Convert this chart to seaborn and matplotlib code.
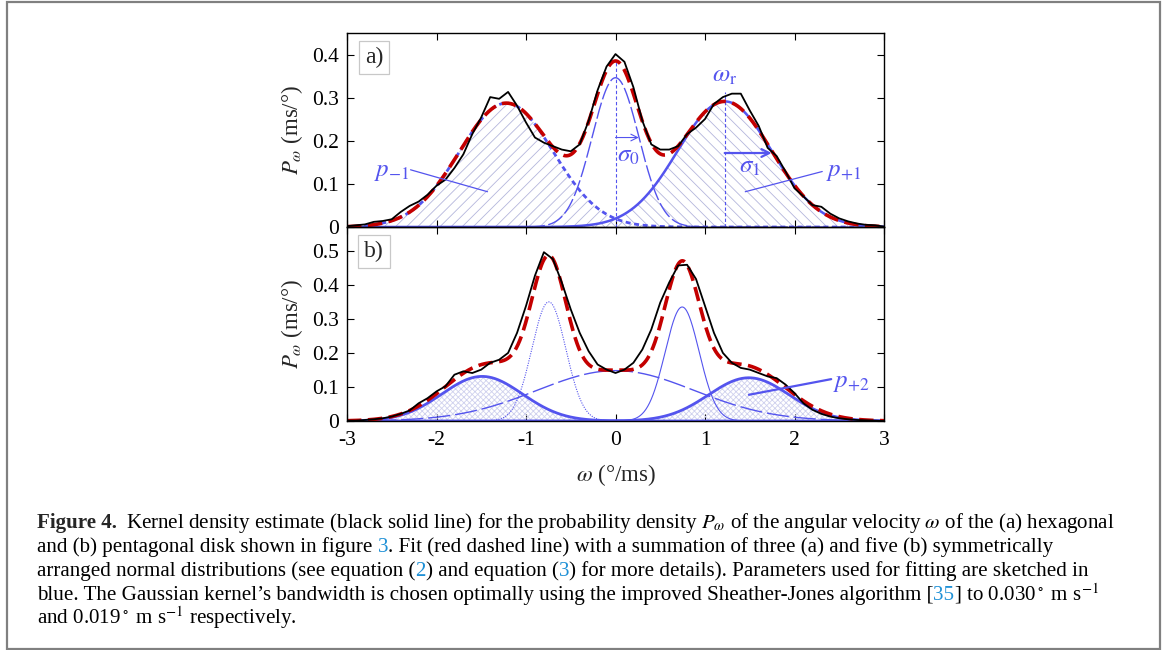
import numpy as np
import matplotlib
matplotlib.use("Agg")
import matplotlib.pyplot as plt
import seaborn as sns
from matplotlib.patches import Rectangle

sns.set_theme(style="ticks")
plt.rcParams["font.family"] = ["Liberation Serif", "DejaVu Serif"]
plt.rcParams["mathtext.fontset"] = "stix"
plt.rcParams["axes.unicode_minus"] = False
plt.rcParams["hatch.linewidth"] = 0.6

W, H = 1165, 650

# angular velocity grid of the kernel density estimates (deg/ms)
omega = np.round(np.arange(-3.0, 3.0001, 0.1), 1)

# (a) hexagonal disk, KDE
kde_a = [0.002, 0.004, 0.006, 0.012, 0.014, 0.018, 0.035, 0.049, 0.059, 0.075,
         0.096, 0.110, 0.137, 0.169, 0.216, 0.255, 0.302, 0.298, 0.314, 0.282,
         0.243, 0.208, 0.196, 0.188, 0.180, 0.176, 0.192, 0.247, 0.318, 0.373,
         0.402, 0.384, 0.325, 0.247, 0.192, 0.180, 0.180, 0.188, 0.216, 0.231,
         0.251, 0.286, 0.302, 0.310, 0.310, 0.271, 0.235, 0.184, 0.165, 0.129,
         0.090, 0.071, 0.051, 0.047, 0.031, 0.020, 0.013, 0.008, 0.005, 0.004,
         0.001]

# (b) pentagonal disk
kde_b = [0.001, 0.001, 0.003, 0.005, 0.008, 0.013, 0.021, 0.031, 0.052, 0.067,
         0.087, 0.102, 0.136, 0.146, 0.141, 0.151, 0.171, 0.180, 0.200, 0.259,
         0.338, 0.427, 0.496, 0.476, 0.407, 0.328, 0.259, 0.205, 0.166, 0.151,
         0.141, 0.151, 0.171, 0.210, 0.269, 0.348, 0.407, 0.457, 0.459, 0.417,
         0.338, 0.259, 0.200, 0.171, 0.156, 0.151, 0.141, 0.131, 0.126, 0.107,
         0.082, 0.052, 0.033, 0.021, 0.013, 0.008, 0.005, 0.003, 0.002, 0.001,
         0.000]

# fitted normal components (centre, amplitude, sigma)
centers_a = [-1.22, 0.0, 1.22]
amps_a = [0.288, 0.347, 0.292]
sigmas_a = [0.525, 0.26, 0.525]

centers_b = [-1.49, -0.745, 0.0, 0.745, 1.49]
amps_b = [0.131, 0.35, 0.148, 0.335, 0.127]
sigmas_b = [0.45, 0.19, 0.88, 0.19, 0.45]

blue = "#5454ee"
red = "#c40000"
hatch_col = "#b4b6dc"
cross_col = "#cfd1ee"
link = "#1e90d6"

x_fit = np.linspace(-3, 3, 1201)


def gauss(c, a, s):
    return a * np.exp(-0.5 * ((x_fit - c) / s) ** 2)


comp_a = [gauss(c, a, s) for c, a, s in zip(centers_a, amps_a, sigmas_a)]
comp_b = [gauss(c, a, s) for c, a, s in zip(centers_b, amps_b, sigmas_b)]
fit_a = np.sum(comp_a, axis=0)
fit_b = np.sum(comp_b, axis=0)

fig = plt.figure(figsize=(W / 100, H / 100), dpi=100)
ax_a = fig.add_axes([347 / W, 1 - 227 / H, 537 / W, 194 / H])
ax_b = fig.add_axes([347 / W, 1 - 421 / H, 537 / W, 194 / H])

# ---------- panel a ----------
ax_a.fill_between(x_fit, 0, comp_a[0], facecolor="none", edgecolor=hatch_col,
                  hatch="///", linewidth=0)
ax_a.fill_between(x_fit, 0, comp_a[2], facecolor="none", edgecolor=hatch_col,
                  hatch="\\\\\\", linewidth=0)

sns.lineplot(x=x_fit, y=comp_a[0], ax=ax_a, color=blue, lw=2.0,
             linestyle=(0, (1.8, 1.3)))
sns.lineplot(x=x_fit, y=comp_a[1], ax=ax_a, color=blue, lw=1.0,
             linestyle=(0, (12, 2.5)))
sns.lineplot(x=x_fit, y=comp_a[2], ax=ax_a, color=blue, lw=1.8)

ax_a.vlines(centers_a[1], 0, fit_a.max(), color=blue, lw=0.8,
            linestyle=(0, (3, 2)))
ax_a.vlines(centers_a[2], 0, 0.314, color=blue, lw=0.8, linestyle=(0, (3, 2)))

ax_a.annotate("", xy=(centers_a[1] + sigmas_a[1], 0.208),
              xytext=(centers_a[1], 0.208),
              arrowprops=dict(arrowstyle="->", color=blue, lw=0.8,
                              shrinkA=0, shrinkB=0))
ax_a.annotate("", xy=(centers_a[2] + sigmas_a[2], 0.172),
              xytext=(centers_a[2], 0.172),
              arrowprops=dict(arrowstyle="->", color=blue, lw=1.6,
                              shrinkA=0, shrinkB=0, mutation_scale=14))

sns.lineplot(x=x_fit, y=fit_a, ax=ax_a, color=red, lw=2.6,
             linestyle=(0, (4, 1.8)))
sns.lineplot(x=omega, y=kde_a, ax=ax_a, color="black", lw=1.3)

ax_a.text(0.14, 0.166, r"$\sigma_0$", color=blue, fontsize=18,
          ha="center", va="center")
ax_a.text(1.50, 0.140, r"$\sigma_1$", color=blue, fontsize=18,
          ha="center", va="center")
ax_a.text(1.22, 0.352, r"$\omega_\mathrm{r}$", color=blue, fontsize=18,
          ha="center", va="center")
ax_a.text(-2.50, 0.128, r"$p_{\mathrm{-}1}$", color=blue, fontsize=18,
          ha="center", va="center")
ax_a.text(2.55, 0.128, r"$p_{+1}$", color=blue, fontsize=18,
          ha="center", va="center")
ax_a.plot([-2.29, -1.43], [0.133, 0.082], color=blue, lw=0.9)
ax_a.plot([2.31, 1.45], [0.129, 0.082], color=blue, lw=0.9)

# ---------- panel b ----------
for k in (0, 4):
    ax_b.fill_between(x_fit, 0, comp_b[k], facecolor="none",
                      edgecolor=cross_col, hatch="xxxxxx", linewidth=0)

sns.lineplot(x=x_fit, y=comp_b[0], ax=ax_b, color=blue, lw=2.0)
sns.lineplot(x=x_fit, y=comp_b[1], ax=ax_b, color=blue, lw=0.8,
             linestyle=(0, (1, 1.2)))
sns.lineplot(x=x_fit, y=comp_b[2], ax=ax_b, color=blue, lw=1.0,
             linestyle=(0, (16, 3.5)))
sns.lineplot(x=x_fit, y=comp_b[3], ax=ax_b, color=blue, lw=0.8)
sns.lineplot(x=x_fit, y=comp_b[4], ax=ax_b, color=blue, lw=2.0)

sns.lineplot(x=x_fit, y=fit_b, ax=ax_b, color=red, lw=2.6,
             linestyle=(0, (4, 1.8)))
sns.lineplot(x=omega, y=kde_b, ax=ax_b, color="black", lw=1.3)

ax_b.text(2.64, 0.112, r"$p_{+2}$", color=blue, fontsize=18,
          ha="center", va="center")
ax_b.plot([2.41, 1.49], [0.123, 0.077], color=blue, lw=1.6)

# ---------- axes styling ----------
for ax, top, yt in ((ax_a, 0.451, [0, 0.1, 0.2, 0.3, 0.4]),
                    (ax_b, 0.57, [0, 0.1, 0.2, 0.3, 0.4, 0.5])):
    ax.set_xlim(-3, 3)
    ax.set_ylim(0, top)
    ax.set_xticks(range(-3, 4))
    ax.set_yticks(yt, labels=["0"] + [f"{v:g}" for v in yt[1:]])
    for sp in ax.spines.values():
        sp.set_visible(True)
        sp.set_color("black")
        sp.set_linewidth(1.0)
    ax.tick_params(direction="in", top=True, right=True, length=5, width=0.8,
                   colors="black", labelsize=15.5, pad=6)
    ax.set_ylabel(r"$P_\omega$ (ms/°)", fontsize=16.5, labelpad=5)
    ax.set_xlabel("")
    ax.patch.set_alpha(0)

ax_a.tick_params(labelbottom=False)
ax_b.tick_params(axis="x", pad=7)
ax_b.set_xlabel(r"$\omega$ (°/ms)", fontsize=16.5, labelpad=9)

for ax, lab in ((ax_a, "a)"), (ax_b, "b)")):
    ax.text(0.05, 0.872, lab, transform=ax.transAxes, fontsize=17,
            ha="center", va="center",
            bbox=dict(boxstyle="square,pad=0.25", facecolor="white",
                      edgecolor="#c8c8c8", linewidth=0.9))

# ---------- caption ----------
renderer = fig.canvas.get_renderer()


def width_of(s, size, weight="normal"):
    t = fig.text(0, 0, s, fontsize=size, weight=weight)
    w = t.get_window_extent(renderer).width
    t.remove()
    return w


lines = [
    [("Kernel density estimate (black solid line) for the probability density "
      r"$P_\omega$ of the angular velocity $\omega$ of the (a) hexagonal", "black")],
    [("and (b) pentagonal disk shown in figure ", "black"), ("3", link),
     (". Fit (red dashed line) with a summation of three (a) and five (b) "
      "symmetrically", "black")],
    [("arranged normal distributions (see equation (", "black"), ("2", link),
     (") and equation (", "black"), ("3", link),
     (") for more details). Parameters used for fitting are sketched in", "black")],
    [("blue. The Gaussian kernel\u2019s bandwidth is chosen optimally using the "
      "improved Sheather-Jones algorithm [", "black"), ("35", link),
     (r"] to 0.030$^\circ$ m s$^{-1}$", "black")],
    [(r"and 0.019$^\circ$ m s$^{-1}$ respectively.", "black")],
]

cap_size = 12 * (1112 - 126) / width_of(lines[0][0][0], 12)
starts = [126, 37, 37, 37, 37]
baselines = [528, 552, 576, 600, 624]

fig.text(37 / W, 1 - baselines[0] / H, "Figure 4.", fontsize=cap_size,
         weight="bold", va="baseline", ha="left")

for segs, x0, yb in zip(lines, starts, baselines):
    prefix = ""
    for s, col in segs:
        if prefix:
            x = x0 + width_of(prefix + s[0], cap_size) - width_of(s[0], cap_size)
        else:
            x = x0
        fig.text(x / W, 1 - yb / H, s, fontsize=cap_size, color=col,
                 va="baseline", ha="left")
        prefix += s

fig.patches.append(Rectangle((7 / W, 1 / H), 1153 / W, 647 / H,
                             transform=fig.transFigure, fill=False,
                             edgecolor="#808080", linewidth=1.6))

fig.savefig("out.png", dpi=100)
